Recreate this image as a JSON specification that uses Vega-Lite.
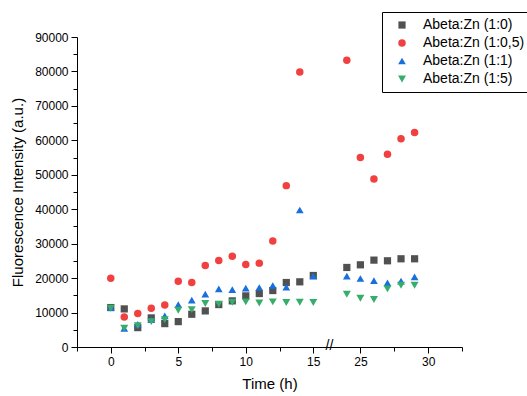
{
  "$schema": "https://vega.github.io/schema/vega-lite/v6.json",
  "width": 385,
  "height": 310,
  "autosize": {"type": "none"},
  "padding": {"left": 77, "top": 37, "right": 65, "bottom": 49},
  "background": "white",
  "config": {
    "view": {"stroke": null},
    "font": "Liberation Sans",
    "axis": {
      "grid": false,
      "domainColor": "black",
      "tickColor": "black",
      "labelColor": "black",
      "titleColor": "black",
      "labelFont": "Liberation Sans",
      "titleFont": "Liberation Sans",
      "labelFontSize": 12,
      "titleFontSize": 15,
      "titleFontWeight": "normal"
    }
  },
  "datasets": {
    "points": [
      {"time": 0, "value": 11450, "series": "Abeta:Zn (1:0)"},
      {"time": 1, "value": 11060, "series": "Abeta:Zn (1:0)"},
      {"time": 2, "value": 5630, "series": "Abeta:Zn (1:0)"},
      {"time": 3, "value": 8440, "series": "Abeta:Zn (1:0)"},
      {"time": 4, "value": 6790, "series": "Abeta:Zn (1:0)"},
      {"time": 5, "value": 7370, "series": "Abeta:Zn (1:0)"},
      {"time": 6, "value": 9510, "series": "Abeta:Zn (1:0)"},
      {"time": 7, "value": 10480, "series": "Abeta:Zn (1:0)"},
      {"time": 8, "value": 12320, "series": "Abeta:Zn (1:0)"},
      {"time": 9, "value": 13390, "series": "Abeta:Zn (1:0)"},
      {"time": 10, "value": 14840, "series": "Abeta:Zn (1:0)"},
      {"time": 11, "value": 15520, "series": "Abeta:Zn (1:0)"},
      {"time": 12, "value": 16390, "series": "Abeta:Zn (1:0)"},
      {"time": 13, "value": 18720, "series": "Abeta:Zn (1:0)"},
      {"time": 14, "value": 18920, "series": "Abeta:Zn (1:0)"},
      {"time": 15, "value": 20760, "series": "Abeta:Zn (1:0)"},
      {"time": 24, "value": 23090, "series": "Abeta:Zn (1:0)"},
      {"time": 25, "value": 23860, "series": "Abeta:Zn (1:0)"},
      {"time": 26, "value": 25220, "series": "Abeta:Zn (1:0)"},
      {"time": 27, "value": 25030, "series": "Abeta:Zn (1:0)"},
      {"time": 28, "value": 25610, "series": "Abeta:Zn (1:0)"},
      {"time": 29, "value": 25610, "series": "Abeta:Zn (1:0)"},

      {"time": 0, "value": 19980, "series": "Abeta:Zn (1:0,5)"},
      {"time": 1, "value": 8730, "series": "Abeta:Zn (1:0,5)"},
      {"time": 2, "value": 9700, "series": "Abeta:Zn (1:0,5)"},
      {"time": 3, "value": 11250, "series": "Abeta:Zn (1:0,5)"},
      {"time": 4, "value": 12220, "series": "Abeta:Zn (1:0,5)"},
      {"time": 5, "value": 19110, "series": "Abeta:Zn (1:0,5)"},
      {"time": 6, "value": 18720, "series": "Abeta:Zn (1:0,5)"},
      {"time": 7, "value": 23670, "series": "Abeta:Zn (1:0,5)"},
      {"time": 8, "value": 25120, "series": "Abeta:Zn (1:0,5)"},
      {"time": 9, "value": 26380, "series": "Abeta:Zn (1:0,5)"},
      {"time": 10, "value": 23960, "series": "Abeta:Zn (1:0,5)"},
      {"time": 11, "value": 24350, "series": "Abeta:Zn (1:0,5)"},
      {"time": 12, "value": 30750, "series": "Abeta:Zn (1:0,5)"},
      {"time": 13, "value": 46850, "series": "Abeta:Zn (1:0,5)"},
      {"time": 14, "value": 79830, "series": "Abeta:Zn (1:0,5)"},
      {"time": 24, "value": 83230, "series": "Abeta:Zn (1:0,5)"},
      {"time": 25, "value": 55000, "series": "Abeta:Zn (1:0,5)"},
      {"time": 26, "value": 48790, "series": "Abeta:Zn (1:0,5)"},
      {"time": 27, "value": 55970, "series": "Abeta:Zn (1:0,5)"},
      {"time": 28, "value": 60430, "series": "Abeta:Zn (1:0,5)"},
      {"time": 29, "value": 62270, "series": "Abeta:Zn (1:0,5)"},

      {"time": 0, "value": 11450, "series": "Abeta:Zn (1:1)"},
      {"time": 1, "value": 5430, "series": "Abeta:Zn (1:1)"},
      {"time": 2, "value": 6600, "series": "Abeta:Zn (1:1)"},
      {"time": 3, "value": 7950, "series": "Abeta:Zn (1:1)"},
      {"time": 4, "value": 9020, "series": "Abeta:Zn (1:1)"},
      {"time": 5, "value": 12320, "series": "Abeta:Zn (1:1)"},
      {"time": 6, "value": 13580, "series": "Abeta:Zn (1:1)"},
      {"time": 7, "value": 15330, "series": "Abeta:Zn (1:1)"},
      {"time": 8, "value": 16880, "series": "Abeta:Zn (1:1)"},
      {"time": 9, "value": 16680, "series": "Abeta:Zn (1:1)"},
      {"time": 10, "value": 17070, "series": "Abeta:Zn (1:1)"},
      {"time": 11, "value": 17270, "series": "Abeta:Zn (1:1)"},
      {"time": 12, "value": 17850, "series": "Abeta:Zn (1:1)"},
      {"time": 13, "value": 17360, "series": "Abeta:Zn (1:1)"},
      {"time": 14, "value": 39770, "series": "Abeta:Zn (1:1)"},
      {"time": 15, "value": 20560, "series": "Abeta:Zn (1:1)"},
      {"time": 24, "value": 20560, "series": "Abeta:Zn (1:1)"},
      {"time": 25, "value": 19890, "series": "Abeta:Zn (1:1)"},
      {"time": 26, "value": 19300, "series": "Abeta:Zn (1:1)"},
      {"time": 27, "value": 18620, "series": "Abeta:Zn (1:1)"},
      {"time": 28, "value": 19110, "series": "Abeta:Zn (1:1)"},
      {"time": 29, "value": 20370, "series": "Abeta:Zn (1:1)"},

      {"time": 0, "value": 11250, "series": "Abeta:Zn (1:5)"},
      {"time": 1, "value": 5430, "series": "Abeta:Zn (1:5)"},
      {"time": 2, "value": 6210, "series": "Abeta:Zn (1:5)"},
      {"time": 3, "value": 7370, "series": "Abeta:Zn (1:5)"},
      {"time": 4, "value": 7950, "series": "Abeta:Zn (1:5)"},
      {"time": 5, "value": 10670, "series": "Abeta:Zn (1:5)"},
      {"time": 6, "value": 10860, "series": "Abeta:Zn (1:5)"},
      {"time": 7, "value": 12610, "series": "Abeta:Zn (1:5)"},
      {"time": 8, "value": 12420, "series": "Abeta:Zn (1:5)"},
      {"time": 9, "value": 13000, "series": "Abeta:Zn (1:5)"},
      {"time": 10, "value": 13100, "series": "Abeta:Zn (1:5)"},
      {"time": 11, "value": 12800, "series": "Abeta:Zn (1:5)"},
      {"time": 12, "value": 13100, "series": "Abeta:Zn (1:5)"},
      {"time": 13, "value": 12900, "series": "Abeta:Zn (1:5)"},
      {"time": 14, "value": 13000, "series": "Abeta:Zn (1:5)"},
      {"time": 15, "value": 12900, "series": "Abeta:Zn (1:5)"},
      {"time": 24, "value": 15330, "series": "Abeta:Zn (1:5)"},
      {"time": 25, "value": 14160, "series": "Abeta:Zn (1:5)"},
      {"time": 26, "value": 13770, "series": "Abeta:Zn (1:5)"},
      {"time": 27, "value": 16880, "series": "Abeta:Zn (1:5)"},
      {"time": 28, "value": 17950, "series": "Abeta:Zn (1:5)"},
      {"time": 29, "value": 17950, "series": "Abeta:Zn (1:5)"}
    ],
    "axisbreak": [
      {"time": 16.2, "value": 0, "label": "//"}
    ]
  },
  "layer": [
    {
      "data": {"name": "points"},
      "mark": {"type": "point", "filled": true, "opacity": 1},
      "encoding": {
        "x": {
          "field": "time",
          "type": "quantitative",
          "title": "Time (h)",
          "scale": {"domain": [-2.5, 16.2, 23.4, 32.5], "range": [0, 252.5, 261.7, 385], "zero": false, "nice": false},
          "axis": {
            "values": [-2.5, 0, 2.5, 5, 7.5, 10, 12.5, 15, 25, 27.5, 30, 32.5],
            "tickCount": 100,
            "format": "d",
            "labelExpr": "(datum.value % 5 === 0 && datum.value >= 0) ? datum.label : ''",
            "tickSize": {"condition": {"test": "datum.value % 5 === 0", "value": 6}, "value": 4},
            "labelOverlap": false,
            "labelPadding": 3,
            "titlePadding": 9,
            "labelFlush": false
          }
        },
        "y": {
          "field": "value",
          "type": "quantitative",
          "title": "Fluorescence Intensity (a.u.)",
          "scale": {"domain": [0, 90000], "nice": false},
          "axis": {
            "values": [0, 5000, 10000, 15000, 20000, 25000, 30000, 35000, 40000, 45000, 50000, 55000, 60000, 65000, 70000, 75000, 80000, 85000, 90000],
            "tickCount": 100,
            "format": "d",
            "labelExpr": "datum.value % 10000 === 0 ? datum.label : ''",
            "tickSize": {"condition": {"test": "datum.value % 10000 === 0", "value": 6}, "value": 4},
            "labelOverlap": false,
            "labelPadding": 3,
            "titlePadding": 9,
            "labelFlush": false
          }
        },
        "color": {
          "field": "series",
          "type": "nominal",
          "scale": {
            "domain": ["Abeta:Zn (1:0)", "Abeta:Zn (1:0,5)", "Abeta:Zn (1:1)", "Abeta:Zn (1:5)"],
            "range": ["#515151", "#F14040", "#1A6FDF", "#37AD6B"]
          },
          "legend": {
            "title": null,
            "orient": "none",
            "legendX": 305,
            "legendY": -25,
            "strokeColor": "black",
            "fillColor": "white",
            "padding": 6,
            "rowPadding": 4,
            "labelFontSize": 14,
            "labelFont": "Liberation Sans",
            "labelColor": "black",
            "symbolOffset": 7,
            "labelOffset": 14,
            "symbolStrokeWidth": 0
          }
        },
        "shape": {
          "field": "series",
          "type": "nominal",
          "scale": {
            "domain": ["Abeta:Zn (1:0)", "Abeta:Zn (1:0,5)", "Abeta:Zn (1:1)", "Abeta:Zn (1:5)"],
            "range": ["square", "circle", "triangle-up", "triangle-down"]
          }
        },
        "size": {
          "field": "series",
          "type": "nominal",
          "scale": {
            "domain": ["Abeta:Zn (1:0)", "Abeta:Zn (1:0,5)", "Abeta:Zn (1:1)", "Abeta:Zn (1:5)"],
            "range": [52, 64, 105, 105]
          }
        }
      }
    },
    {
      "data": {"name": "axisbreak"},
      "mark": {"type": "text", "fontSize": 14, "font": "Liberation Sans", "color": "black", "baseline": "middle", "align": "center", "dy": -1},
      "encoding": {
        "x": {"field": "time", "type": "quantitative"},
        "y": {"field": "value", "type": "quantitative"},
        "text": {"field": "label"}
      }
    }
  ]
}
